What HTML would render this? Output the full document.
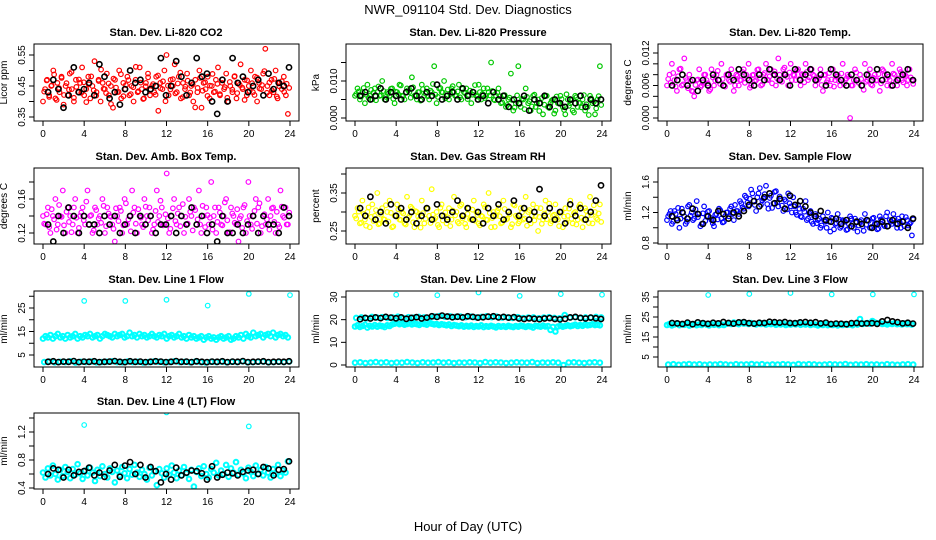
<!DOCTYPE html>
<html><head><meta charset="utf-8"><style>
html,body{margin:0;padding:0;background:#fff;}
svg{display:block;font-family:"Liberation Sans",Arial,sans-serif;}
</style></head><body>
<svg id="chart" width="936" height="540" viewBox="0 0 936 540" xmlns="http://www.w3.org/2000/svg">
<rect width="936" height="540" fill="#fff"/>
<text x="468" y="14" font-size="13" text-anchor="middle">NWR_091104  Std. Dev. Diagnostics</text>
<text x="468" y="531" font-size="13" text-anchor="middle">Hour of Day (UTC)</text>
</svg>
<script>
const hourTicks=[0,4,8,12,16,20,24];
const co2Red=[0.40,0.44,0.47,0.42,0.45,0.50,0.41,0.46,0.43,0.48,0.39,0.45,0.42,0.49,0.44,0.40,0.47,0.43,0.46,0.51,0.42,0.44,0.48,0.41,0.45,0.53,0.43,0.47,0.40,0.46,0.44,0.49,0.42,0.45,0.38,0.47,0.43,0.50,0.41,0.46,0.44,0.48,0.42,0.45,0.40,0.47,0.43,0.51,0.44,0.41,0.46,0.49,0.42,0.45,0.43,0.48,0.37,0.46,0.44,0.50,0.55,0.42,0.47,0.45,0.52,0.43,0.48,0.41,0.46,0.44,0.49,0.42,0.45,0.40,0.47,0.43,0.50,0.38,0.46,0.44,0.48,0.41,0.45,0.43,0.47,0.51,0.42,0.46,0.44,0.49,0.40,0.45,0.43,0.48,0.41,0.46,0.52,0.44,0.47,0.42,0.45,0.50,0.43,0.48,0.40,0.46,0.44,0.49,0.57,0.45,0.42,0.47,0.43,0.50,0.41,0.46,0.44,0.48,0.42,0.36];
const co2Red2=[0.432,0.468,0.415,0.452,0.487,0.405,0.443,0.476,0.421,0.459,0.438,0.495,0.412,0.447,0.471,0.428,0.462,0.398,0.455,0.481,0.436,0.419,0.466,0.503,0.441,0.427,0.458,0.392,0.474,0.445,0.431,0.488,0.417,0.453,0.469,0.424,0.446,0.512,0.433,0.461,0.408,0.449,0.478,0.437,0.456,0.422,0.484,0.443,0.465,0.401,0.451,0.439,0.472,0.426,0.458,0.493,0.414,0.448,0.467,0.429,0.455,0.381,0.444,0.476,0.435,0.462,0.418,0.451,0.489,0.432,0.457,0.424,0.471,0.446,0.412,0.463,0.438,0.482,0.427,0.454,0.445,0.405,0.468,0.434,0.459,0.421,0.477,0.442,0.453,0.498,0.428,0.461,0.436,0.473,0.416,0.449,0.465,0.431,0.457,0.444];
const co2Black=[0.43,0.47,0.44,0.38,0.42,0.51,0.43,0.44,0.46,0.42,0.52,0.48,0.41,0.43,0.39,0.44,0.50,0.46,0.47,0.43,0.44,0.45,0.54,0.42,0.45,0.53,0.48,0.42,0.46,0.54,0.48,0.49,0.40,0.36,0.47,0.40,0.54,0.46,0.48,0.43,0.45,0.47,0.42,0.49,0.44,0.46,0.45,0.51];
const presGreen=[0.006,0.008,0.005,0.007,0.004,0.009,0.006,0.005,0.008,0.007,0.006,0.010,0.005,0.007,0.006,0.008,0.004,0.007,0.009,0.006,0.005,0.008,0.007,0.011,0.006,0.005,0.007,0.009,0.006,0.008,0.005,0.007,0.014,0.004,0.008,0.007,0.010,0.006,0.005,0.008,0.007,0.006,0.009,0.005,0.007,0.008,0.006,0.004,0.007,0.006,0.009,0.005,0.008,0.006,0.007,0.015,0.005,0.006,0.008,0.004,0.006,0.003,0.005,0.012,0.002,0.004,0.014,0.003,0.005,0.008,0.004,0.002,0.006,0.003,0.005,0.004,0.001,0.006,0.003,0.004,0.005,0.002,0.004,0.006,0.003,0.001,0.005,0.004,0.002,0.006,0.003,0.004,0.005,0.002,0.003,0.006,0.004,0.001,0.005,0.014];
const presGreen2=[0.0065,0.0072,0.0058,0.0081,0.0063,0.0054,0.0076,0.0069,0.0048,0.0085,0.0061,0.0073,0.0057,0.0066,0.0079,0.0052,0.0071,0.0064,0.0088,0.0059,0.0068,0.0075,0.0055,0.0083,0.0062,0.0070,0.0047,0.0078,0.0066,0.0059,0.0074,0.0092,0.0063,0.0057,0.0081,0.0069,0.0053,0.0077,0.0065,0.0086,0.0060,0.0072,0.0056,0.0079,0.0067,0.0051,0.0074,0.0063,0.0089,0.0058,0.0070,0.0065,0.0054,0.0080,0.0061,0.0073,0.0048,0.0068,0.0059,0.0042,0.0062,0.0035,0.0055,0.0049,0.0028,0.0061,0.0038,0.0052,0.0024,0.0057,0.0045,0.0031,0.0063,0.0040,0.0019,0.0054,0.0036,0.0060,0.0027,0.0047,0.0012,0.0058,0.0039,0.0051,0.0022,0.0064,0.0033,0.0048,0.0015,0.0056,0.0041,0.0029,0.0062,0.0037,0.0008,0.0053,0.0044,0.0026,0.0059,0.0035];
const presBlack=[0.006,0.007,0.005,0.006,0.008,0.005,0.007,0.006,0.005,0.007,0.008,0.006,0.005,0.007,0.006,0.009,0.005,0.006,0.007,0.005,0.008,0.006,0.007,0.005,0.006,0.004,0.007,0.005,0.006,0.003,0.005,0.004,0.006,0.002,0.005,0.004,0.006,0.003,0.005,0.004,0.003,0.005,0.004,0.006,0.003,0.005,0.004,0.005];
const tempMag=[0.006,0.008,0.010,0.007,0.005,0.009,0.006,0.011,0.007,0.008,0.005,0.004,0.007,0.009,0.006,0.008,0.007,0.005,0.009,0.006,0.008,0.007,0.010,0.006,0.008,0.007,0.009,0.005,0.008,0.006,0.007,0.009,0.008,0.010,0.006,0.008,0.007,0.009,0.006,0.008,0.010,0.007,0.009,0.008,0.006,0.011,0.007,0.009,0.008,0.006,0.010,0.008,0.007,0.009,0.006,0.008,0.010,0.007,0.009,0.008,0.006,0.007,0.009,0.005,0.008,0.007,0.006,0.009,0.007,0.008,0.006,0.010,0.007,0.008,0.000,0.006,0.009,0.007,0.008,0.006,0.010,0.007,0.009,0.006,0.008,0.007,0.005,0.009,0.008,0.006,0.007,0.010,0.008,0.006,0.009,0.007,0.008,0.006,0.009,0.007];
const tempMag2=[0.0072,0.0065,0.0083,0.0058,0.0077,0.0091,0.0062,0.0074,0.0055,0.0068,0.0049,0.0061,0.0071,0.0057,0.0066,0.0080,0.0064,0.0053,0.0075,0.0069,0.0087,0.0063,0.0072,0.0058,0.0081,0.0067,0.0074,0.0060,0.0078,0.0070,0.0085,0.0065,0.0073,0.0056,0.0079,0.0068,0.0089,0.0074,0.0062,0.0083,0.0071,0.0077,0.0064,0.0086,0.0073,0.0080,0.0067,0.0093,0.0076,0.0084,0.0070,0.0079,0.0088,0.0072,0.0081,0.0066,0.0085,0.0075,0.0090,0.0078,0.0069,0.0074,0.0061,0.0079,0.0066,0.0083,0.0071,0.0058,0.0076,0.0068,0.0082,0.0063,0.0073,0.0077,0.0060,0.0070,0.0084,0.0065,0.0072,0.0052,0.0067,0.0079,0.0062,0.0074,0.0069,0.0081,0.0064,0.0087,0.0071,0.0076,0.0059,0.0082,0.0068,0.0073,0.0085,0.0066,0.0078,0.0070,0.0075,0.0063];
const tempBlack=[0.006,0.007,0.008,0.006,0.007,0.005,0.007,0.006,0.008,0.007,0.006,0.008,0.007,0.009,0.008,0.007,0.006,0.008,0.007,0.009,0.008,0.007,0.008,0.006,0.009,0.007,0.008,0.009,0.007,0.008,0.006,0.009,0.008,0.007,0.006,0.008,0.007,0.006,0.008,0.007,0.009,0.007,0.008,0.006,0.007,0.008,0.009,0.007];
const ambMag=[0.14,0.13,0.15,0.12,0.14,0.16,0.13,0.14,0.17,0.12,0.15,0.14,0.13,0.16,0.12,0.14,0.15,0.13,0.17,0.14,0.12,0.15,0.13,0.14,0.16,0.12,0.15,0.14,0.13,0.11,0.14,0.15,0.12,0.16,0.13,0.14,0.17,0.15,0.12,0.14,0.13,0.16,0.14,0.15,0.12,0.13,0.17,0.14,0.15,0.13,0.19,0.12,0.14,0.16,0.13,0.15,0.14,0.12,0.13,0.16,0.14,0.15,0.13,0.17,0.12,0.14,0.15,0.13,0.18,0.14,0.12,0.15,0.13,0.14,0.16,0.12,0.15,0.14,0.13,0.11,0.14,0.15,0.12,0.18,0.13,0.14,0.16,0.15,0.12,0.14,0.13,0.16,0.14,0.15,0.12,0.13,0.17,0.14,0.15,0.13];
const ambMag2=[0.131,0.142,0.127,0.148,0.136,0.124,0.153,0.139,0.129,0.145,0.133,0.121,0.150,0.138,0.126,0.144,0.135,0.157,0.130,0.141,0.123,0.147,0.137,0.132,0.152,0.128,0.143,0.139,0.125,0.149,0.134,0.146,0.129,0.155,0.136,0.122,0.144,0.131,0.148,0.138,0.127,0.151,0.135,0.140,0.124,0.146,0.133,0.158,0.129,0.142,0.137,0.125,0.149,0.134,0.143,0.128,0.154,0.139,0.131,0.145,0.123,0.147,0.136,0.130,0.152,0.127,0.141,0.138,0.124,0.150,0.133,0.144,0.129,0.156,0.135,0.121,0.143,0.132,0.148,0.137,0.126,0.153,0.134,0.140,0.125,0.146,0.131,0.155,0.128,0.142,0.136,0.124,0.149,0.133,0.145,0.127,0.151,0.138,0.130,0.144];
const ambBlack=[0.13,0.11,0.14,0.12,0.15,0.14,0.12,0.14,0.13,0.13,0.12,0.14,0.13,0.14,0.12,0.13,0.14,0.12,0.14,0.13,0.14,0.12,0.13,0.13,0.14,0.12,0.14,0.13,0.15,0.13,0.14,0.12,0.13,0.11,0.14,0.12,0.12,0.13,0.12,0.13,0.14,0.12,0.14,0.13,0.13,0.12,0.15,0.14];
const rhYellow=[0.29,0.31,0.27,0.33,0.28,0.30,0.26,0.32,0.29,0.35,0.27,0.31,0.28,0.30,0.33,0.26,0.29,0.32,0.28,0.30,0.27,0.34,0.29,0.31,0.26,0.30,0.28,0.33,0.27,0.31,0.29,0.36,0.28,0.30,0.26,0.32,0.29,0.27,0.31,0.28,0.34,0.30,0.27,0.32,0.29,0.26,0.31,0.28,0.33,0.30,0.27,0.29,0.32,0.28,0.35,0.26,0.30,0.29,0.31,0.27,0.33,0.28,0.30,0.26,0.32,0.29,0.27,0.31,0.28,0.34,0.30,0.27,0.32,0.29,0.25,0.31,0.28,0.33,0.30,0.27,0.29,0.32,0.28,0.30,0.26,0.31,0.29,0.33,0.27,0.30,0.28,0.32,0.26,0.31,0.29,0.34,0.27,0.30,0.28,0.32];
const rhYellow2=[0.283,0.301,0.272,0.295,0.264,0.312,0.287,0.276,0.305,0.268,0.293,0.281,0.318,0.275,0.298,0.262,0.289,0.307,0.279,0.296,0.267,0.285,0.314,0.273,0.302,0.288,0.259,0.297,0.282,0.309,0.271,0.293,0.284,0.266,0.311,0.278,0.299,0.286,0.263,0.304,0.291,0.274,0.316,0.283,0.269,0.295,0.281,0.306,0.277,0.292,0.265,0.288,0.313,0.279,0.297,0.284,0.261,0.303,0.289,0.272,0.308,0.282,0.294,0.268,0.317,0.286,0.275,0.299,0.283,0.264,0.305,0.291,0.278,0.311,0.287,0.269,0.296,0.281,0.322,0.276,0.293,0.285,0.263,0.301,0.288,0.273,0.309,0.282,0.297,0.267,0.314,0.285,0.279,0.303,0.271,0.292,0.318,0.284,0.296,0.274];
const rhBlack=[0.31,0.29,0.34,0.28,0.30,0.27,0.32,0.29,0.31,0.28,0.30,0.27,0.29,0.31,0.28,0.32,0.29,0.28,0.30,0.33,0.29,0.31,0.28,0.30,0.27,0.31,0.29,0.32,0.28,0.30,0.33,0.29,0.31,0.28,0.30,0.36,0.29,0.31,0.28,0.30,0.27,0.32,0.29,0.31,0.28,0.30,0.33,0.37];
const flowBlue=[1.10,1.18,1.05,1.22,1.12,1.00,1.25,1.15,1.08,1.30,1.20,1.12,1.35,1.18,1.05,1.28,1.15,1.22,1.10,1.02,1.18,1.25,1.12,1.08,1.20,1.15,1.28,1.10,1.22,1.18,1.32,1.25,1.40,1.28,1.50,1.35,1.22,1.45,1.30,1.38,1.55,1.25,1.42,1.32,1.48,1.28,1.38,1.22,1.35,1.45,1.28,1.40,1.20,1.30,1.15,1.25,1.35,1.12,1.22,1.05,1.18,1.10,1.00,1.15,1.08,1.20,0.95,1.12,1.05,1.18,1.00,1.10,1.08,0.98,1.15,1.05,1.12,0.95,1.08,1.02,1.18,1.10,1.00,1.12,1.05,0.98,1.15,1.08,1.02,1.20,1.10,1.05,1.12,1.00,1.08,1.15,1.02,1.10,1.05,0.90];
const flowBlue2=[1.15,1.22,1.08,1.18,1.26,1.12,1.20,1.05,1.28,1.16,1.10,1.24,1.14,1.02,1.19,1.09,1.21,1.13,1.06,1.17,1.11,1.23,1.07,1.15,1.20,1.25,1.18,1.30,1.22,1.35,1.27,1.42,1.33,1.38,1.45,1.30,1.40,1.52,1.36,1.44,1.31,1.39,1.26,1.47,1.33,1.41,1.29,1.37,1.24,1.32,1.20,1.28,1.17,1.25,1.14,1.21,1.10,1.19,1.08,1.15,1.06,1.12,1.03,1.10,1.00,1.08,1.13,0.98,1.06,1.11,1.02,1.09,0.97,1.05,1.12,1.00,1.07,1.03,1.10,0.96,1.04,1.09,1.01,1.13,1.06,0.99,1.11,1.04,1.15,1.02,1.08,1.18,1.05,1.12,1.00,1.09,1.14,1.03,1.07,1.11];
const flowBlack=[1.15,1.10,1.20,1.12,1.25,1.18,1.05,1.15,1.10,1.22,1.18,1.12,1.20,1.15,1.22,1.30,1.35,1.28,1.40,1.45,1.32,1.38,1.25,1.42,1.30,1.35,1.28,1.20,1.15,1.22,1.10,1.08,1.12,1.05,1.10,1.02,1.08,1.05,1.10,1.00,1.05,1.08,1.02,1.10,1.05,1.08,1.00,1.12];
const l1Band=[12,13,12.5,13.5,12,13,14,12.5,13,12,13.5,12.5,13,14,12,13,12.5,13.5,13,14,12.5,13,13.5,12,13,14,13.5,13,12.5,14,13,13.5,14,12.5,13,14.5,13,13.5,12.5,14,13,13.5,12.5,13,14,13,12.5,13.5,13,14,12,13,13.5,12.5,13,14,12.5,13,12,13.5,12.5,13,12,12.5,13,11.5,12.5,13,12,12.5,11.5,12.5,13,12,12.5,13,11.5,12,13,12.5,13.5,12,14,13,12.5,14.5,13,13.5,14,12.5,13.5,14,13,14.5,12.5,13.5,14,13,13.5,12.5];
const l1Low=[2,2.2,1.9,2.1,2,2.3,1.8,2.1,2,2.2,1.9,2,2.1,2.3,2,1.9,2.2,2,2.1,1.8,2,2.2,2.1,1.9,2,2.3,2,2.1,1.9,2.2,2,1.8,2.1,2,2.2,1.9,2.1,2,2.3,1.9,2,2.1,2.2,1.9,2,2.1,2,2.2];
const l1Black=[2.1,2.3,2,2.2,2.1,2.4,2,2.2,2.1,2.3,2,2.1,2.2,2.4,2.1,2,2.3,2.1,2.2,2,2.1,2.3,2.2,2,2.1,2.4,2.1,2.2,2,2.3,2.1,2,2.2,2.1,2.3,2,2.2,2.1,2.4,2,2.1,2.2,2.3,2,2.1,2.2,2.1,2.3];
const l1OutHours=[4,8,12,16,20,24];
const l1OutVals=[28,28,28.5,26,31,30.5];
const l2Mid=[17,17.5,16.8,17.2,17.8,16.5,17.3,17,17.6,16.9,17.4,17.1,16.7,17.5,17.2,17.9,18.2,18.5,18,18.3,17.8,18.1,18.4,17.9,18.2,18,17.7,18.3,18.1,17.8,18.5,18.2,17.9,18.1,17.6,18,17.8,17.5,17.9,17.2,17.6,17.4,17.1,17.5,16.9,17.3,17,17.4,16.8,17.2,17,17.5,16.7,17.1,16.9,17.3,17,16.6,17.2,16.9,17.1,16.8,17.3,17,16.7,17.2,16.9,17.4,17.1,16.8,17.2,17,16.5,17.3,17.1,16.9,17.4,17,17.2,15.5,16.8,14.8,17,17.3,16.9,17.2,17.5,17.1,17.4,17.8,17.2,17.6,17.3,17.9,17.5,17.7,18,17.6,17.8,17.5];
const l2Upper=[20.8,21,20.6,21.2,20.9,21.1,20.7,21,21.3,20.8,21.1,20.9,21.2,21,20.7,21.4,21.6,21.3,21.5,21.2,21.4,21.1,21.3,21,21.2,21.5,21.1,21.3,20.9,21,20.8,21.1,20.7,20.9,21,20.6,20.9,21.1,20.8,20.6,22,20.9,21.1,20.8,21,20.9,21.2,21];
const l2Low=[1,1.2,0.9,1.1,1.3,1,1.2,0.9,1.1,1,1.3,1.1,0.9,1.2,1,1.1,1.3,1,1.2,0.9,1.1,1,1.2,1.1,0.9,1.3,1,1.2,1.1,0.9,1,1.2,1.1,1,1.3,0.9,1.1,1,1.2,1,0,1.1,1.2,1,0.9,1.1,1.2,1];
const l2Black=[20.2,20.8,20.5,21,20.7,21.2,20.9,20.6,21,20.4,20.8,21.1,20.5,20.9,21.5,21.2,21.8,21.4,21.1,21.3,21,21.5,21.2,20.9,21.1,21.3,21.5,21,21.2,20.9,21.1,20.5,20.3,20.6,20.4,20.2,20.5,20.7,20.3,20.1,20.4,21,21.2,20.8,20.5,20.9,20.6,20.3];
const l2OutHours=[4,8,12,16,20,24];
const l2OutVals=[31,30.8,32,30.5,31.3,31];
const l3Band=[21,21.5,20.8,21.3,21.8,20.9,21.4,21.1,21.6,20.7,21.2,21.5,20.9,21.3,21,21.7,21.2,20.8,21.4,21.1,21.5,20.9,21.3,21,21.6,22,21.5,22.2,21.8,21.4,22.1,21.7,21.9,21.5,22,21.6,21.3,21.8,21.5,21.9,21.2,21.6,21.4,21.8,21.1,21.5,21.3,21.7,21,21.4,21.2,21.6,21.3,21.9,21.1,21.5,21.2,21.7,21,21.4,21.2,20.8,21.3,21,21.5,20.9,21.2,21,21.4,20.8,21.2,21,21.5,21.1,21.3,20.9,21.6,21.2,24,21.5,21.7,22,21.6,23,22.2,21.8,22,21.5,21.7,21.3,21.8,21.5,21.9,21.4,21.6,21.3,21.7,21.4,21.5,21.2];
const l3Low=[1.2,1.4,1.1,1.3,1.5,1.2,1.4,1.1,1.3,1.2,1.5,1.3,1.1,1.4,1.2,1.3,1.5,1.2,1.4,1.1,1.3,1.2,1.4,1.3,1.1,1.5,1.2,1.4,1.3,1.1,1.2,1.4,1.3,1.2,1.5,1.1,1.3,1.2,1.4,1.2,1.3,1.1,1.4,1.2,1.1,1.3,1.4,1.2];
const l3Black=[22,21.8,21.5,22.2,21.4,22.3,21.9,21.6,22.1,21.8,22.5,22,21.7,22.3,22.4,21.9,21.7,22.1,22,22.6,22.4,22.2,22.5,22,21.9,22.3,22.5,22.1,22.4,21.8,22.2,21.5,21.7,21.6,21.4,21.9,22,21.7,21.8,21.9,21.6,22.8,23.5,22.8,22.4,21.8,22.1,21.7];
const l3OutHours=[4,8,12,16,20,24];
const l3OutVals=[36,36.5,37,36.3,36.3,36.3];
const l4Cyan=[0.62,0.55,0.68,0.58,0.72,0.6,0.52,0.66,0.57,0.7,0.63,0.54,0.67,0.59,0.74,0.61,0.53,0.65,0.58,0.69,0.62,0.5,0.66,0.57,0.71,0.6,0.55,0.68,0.63,0.48,0.65,0.58,0.7,0.61,0.54,0.67,0.59,0.73,0.62,0.56,0.66,0.6,0.52,0.69,0.58,0.64,0.44,0.67,0.61,0.55,0.68,0.59,0.72,0.62,0.54,0.65,0.58,0.7,0.61,0.53,0.66,0.42,0.63,0.68,0.57,0.71,0.6,0.55,0.67,0.62,0.76,0.58,0.65,0.6,0.73,0.56,0.68,0.62,0.77,0.59,0.66,0.61,0.54,0.69,0.63,0.57,0.72,0.6,0.66,0.58,0.7,0.62,0.55,0.67,0.6,0.73,0.57,0.65,0.62,0.78];
const l4Black=[0.6,0.68,0.66,0.55,0.66,0.58,0.63,0.64,0.69,0.58,0.62,0.56,0.65,0.73,0.56,0.72,0.77,0.6,0.73,0.55,0.7,0.64,0.48,0.6,0.52,0.69,0.58,0.62,0.65,0.64,0.61,0.52,0.71,0.55,0.59,0.62,0.61,0.58,0.63,0.65,0.66,0.6,0.7,0.68,0.58,0.66,0.67,0.78];
const l4OutHours=[4,12,20];
const l4OutVals=[1.3,1.48,1.28];

const NS='http://www.w3.org/2000/svg';
const svg=document.getElementById('chart');
function mk(tag,attrs,parent){const e=document.createElementNS(NS,tag);for(const k in attrs)e.setAttribute(k,attrs[k]);(parent||svg).appendChild(e);return e;}

const panels=[
 {name:'co2',title:'Stan. Dev. Li-820 CO2',ylab:'Licor ppm',col:0,row:0,cal:[0.55,55,0.35,117],ticks:[0.35,0.40,0.45,0.50,0.55],labels:[[0.35,'0.35'],[0.45,'0.45'],[0.55,'0.55']],
  series:[{v:co2Red,c:'#ff0000'},{v:co2Red2,c:'#ff0000'},{v:co2Black,c:'#000',black:true}]},
 {name:'pressure',title:'Stan. Dev. Li-820 Pressure',ylab:'kPa',col:1,row:0,cal:[0.010,81,0,118],ticks:[0,0.005,0.010,0.015],labels:[[0,'0.000'],[0.010,'0.010']],
  series:[{v:presGreen,c:'#00c800'},{v:presGreen2,c:'#00c800'},{v:presBlack,c:'#000',black:true}]},
 {name:'temp',title:'Stan. Dev. Li-820 Temp.',ylab:'degrees C',col:2,row:0,cal:[0.012,53,0,118],ticks:[0,0.002,0.004,0.006,0.008,0.010,0.012],labels:[[0,'0.000'],[0.006,'0.006'],[0.012,'0.012']],
  series:[{v:tempMag,c:'#ff00ff'},{v:tempMag2,c:'#ff00ff'},{v:tempBlack,c:'#000',black:true}]},
 {name:'amb-box',title:'Stan. Dev. Amb. Box Temp.',ylab:'degrees C',col:0,row:1,cal:[0.16,199,0.12,233],ticks:[0.12,0.14,0.16,0.18],labels:[[0.12,'0.12'],[0.16,'0.16']],
  series:[{v:ambMag,c:'#ff00ff'},{v:ambMag2,c:'#ff00ff'},{v:ambBlack,c:'#000',black:true}]},
 {name:'gas-rh',title:'Stan. Dev. Gas Stream RH',ylab:'percent',col:1,row:1,cal:[0.35,193,0.25,231],ticks:[0.25,0.30,0.35,0.40],labels:[[0.25,'0.25'],[0.35,'0.35']],
  series:[{v:rhYellow,c:'#ffff00'},{v:rhYellow2,c:'#ffff00'},{v:rhBlack,c:'#000',black:true}]},
 {name:'sample-flow',title:'Stan. Dev. Sample Flow',ylab:'ml/min',col:2,row:1,cal:[1.6,182,0.8,243],ticks:[0.8,1.0,1.2,1.4,1.6],labels:[[0.8,'0.8'],[1.2,'1.2'],[1.6,'1.6']],
  series:[{v:flowBlue,c:'#0000ff'},{v:flowBlue2,c:'#0000ff'},{v:flowBlack,c:'#000',black:true}]},
 {name:'line1',title:'Stan. Dev. Line 1 Flow',ylab:'ml/min',col:0,row:2,cal:[25,308,5,355],ticks:[5,10,15,20,25,30],labels:[[5,'5'],[15,'15'],[25,'25']],
  series:[{v:l1Band,c:'#00ffff',band:true},{v:l1Low,c:'#00ffff',band:true},{v:l1Black,c:'#000',black:true},{h:l1OutHours,v:l1OutVals,c:'#00ffff'}]},
 {name:'line2',title:'Stan. Dev. Line 2 Flow',ylab:'ml/min',col:1,row:2,cal:[30,297,0,365],ticks:[0,10,20,30],labels:[[0,'0'],[10,'10'],[20,'20'],[30,'30']],
  series:[{v:l2Mid,c:'#00ffff',band:true},{v:l2Upper,c:'#00ffff',band:true},{v:l2Low,c:'#00ffff',band:true},{v:l2Black,c:'#000',black:true},{h:l2OutHours,v:l2OutVals,c:'#00ffff'}]},
 {name:'line3',title:'Stan. Dev. Line 3 Flow',ylab:'ml/min',col:2,row:2,cal:[35,297,5,357],ticks:[5,10,15,20,25,30,35],labels:[[5,'5'],[15,'15'],[25,'25'],[35,'35']],
  series:[{v:l3Band,c:'#00ffff',band:true},{v:l3Low,c:'#00ffff',band:true},{v:l3Black,c:'#000',black:true},{h:l3OutHours,v:l3OutVals,c:'#00ffff'}]},
 {name:'line4',title:'Stan. Dev. Line 4 (LT) Flow',ylab:'ml/min',col:0,row:3,cal:[1.2,432,0.4,488],ticks:[0.4,0.6,0.8,1.0,1.2,1.4],labels:[[0.4,'0.4'],[0.8,'0.8'],[1.2,'1.2']],
  series:[{v:l4Cyan,c:'#00ffff',band:true},{v:l4Black,c:'#000',black:true},{h:l4OutHours,v:l4OutVals,c:'#00ffff'}]}
];
const colX0=[43,355,667];
const rowBox=[[44,121],[168,244],[291,367],[413,489]];

panels.forEach(p=>{
 const x0=colX0[p.col],[top,bot]=rowBox[p.row];
 const xs=h=>x0+h*247/24;
 const [v1,p1,v2,p2]=p.cal;
 const ys=v=>p1+(v-v1)*(p2-p1)/(v2-v1);
 const g=mk('g',{});
 
 
 const clip=mk('clipPath',{id:'clip-'+p.name},g);
 mk('rect',{x:x0-9,y:top,width:265,height:bot-top},clip);
 const pts=mk('g',{'clip-path':'url(#clip-'+p.name+')'},g);
 
 
 p.series.forEach((s,si)=>{
  const n=s.v.length;
  s.v.forEach((v,i)=>{
   let h;
   if(s.h) h=s.h[i];
   else if(s.black) h=0.5+i*23.4/(n-1);
   else h=(si%2?0.12:0)+i*23.8/(n-1);
   const sw=s.black?1.6:(s.band?2:1.2);
   const c=mk('circle',{cx:xs(h).toFixed(1),cy:ys(v).toFixed(1),r:s.black?2.6:2.3,fill:'none',stroke:s.c,'stroke-width':sw},pts);
   
   
  });
 });
 const box=mk('rect',{x:x0-9,y:top,width:265,height:bot-top,fill:'none',stroke:'#000','stroke-width':1},g);
 
 
 const t=mk('text',{x:x0+123,y:top-8,'font-size':11,'font-weight':'bold','text-anchor':'middle'},g);
 t.textContent=p.title;
 
 
 mk('line',{x1:xs(0),x2:xs(24),y1:bot,y2:bot,stroke:'#000'},g);
 hourTicks.forEach(h=>{
  mk('line',{x1:xs(h),x2:xs(h),y1:bot,y2:bot+5,stroke:'#000'},g);
  const l=mk('text',{x:xs(h),y:bot+16,'font-size':10,'text-anchor':'middle'},g);
  l.textContent=h;
  
  
 });
 const lx=x0-9;
 p.ticks.forEach(v=>{mk('line',{x1:lx-5,x2:lx,y1:ys(v),y2:ys(v),stroke:'#000'},g);});
 p.labels.forEach(([v,s])=>{
  const y=ys(v),xx=lx-9;
  const l=mk('text',{x:xx,y:y,'font-size':10,'text-anchor':'middle',transform:'rotate(-90 '+xx+' '+y+')'},g);
  l.textContent=s;
  
  
 });
 const yl=mk('text',{x:lx-27,y:(top+bot)/2,'font-size':10,'text-anchor':'middle',transform:'rotate(-90 '+(lx-27)+' '+((top+bot)/2)+')'},g);
 yl.textContent=p.ylab;
 
 
});
</script>
</body></html>
